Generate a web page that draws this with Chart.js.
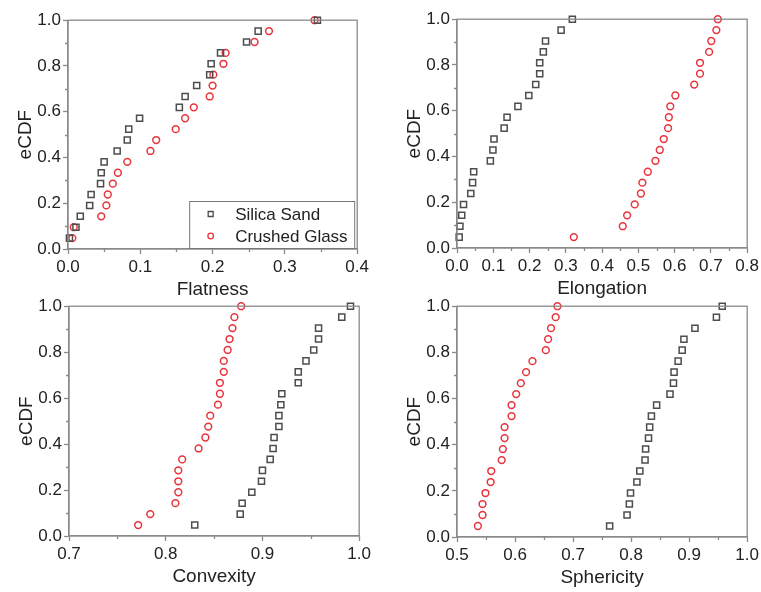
<!DOCTYPE html>
<html>
<head>
<meta charset="utf-8">
<script src="https://cdn.jsdelivr.net/npm/chart.js@4/dist/chart.umd.min.js"></script>
<style>
  html, body { margin: 0; padding: 0; background: #fff; }
  body { width: 761px; height: 592px; position: relative; overflow: hidden; }
  .panel { position: absolute; }
</style>
</head>
<body>
<div class="panel" id="p1"><canvas id="c1"></canvas></div>
<div class="panel" id="p2"><canvas id="c2"></canvas></div>
<div class="panel" id="p3"><canvas id="c3"></canvas></div>
<div class="panel" id="p4"><canvas id="c4"></canvas></div>
<script>
// eCDF levels: k/21 for k = 1..21
const ecdf = [1,2,3,4,5,6,7,8,9,10,11,12,13,14,15,16,17,18,19,20,21].map(k => k / 21);

// Flatness
const flatSand  = [0.002,0.011,0.017,0.030,0.032,0.045,0.046,0.050,0.068,0.082,0.084,0.099,0.154,0.162,0.178,0.196,0.198,0.211,0.247,0.263,0.345];
const flatGlass = [0.006,0.008,0.046,0.053,0.055,0.062,0.069,0.082,0.114,0.122,0.149,0.162,0.174,0.196,0.200,0.201,0.215,0.218,0.258,0.278,0.341];

// Elongation
const elongSand  = [0.006,0.008,0.013,0.018,0.038,0.043,0.046,0.092,0.099,0.102,0.130,0.138,0.168,0.198,0.217,0.228,0.228,0.238,0.244,0.287,0.318];
const elongGlass = [0.322,0.457,0.469,0.490,0.507,0.511,0.526,0.547,0.559,0.570,0.582,0.584,0.588,0.602,0.654,0.670,0.670,0.695,0.701,0.715,0.719];

// Convexity
const convSand  = [0.830,0.877,0.879,0.889,0.899,0.900,0.908,0.911,0.912,0.917,0.917,0.919,0.920,0.937,0.937,0.945,0.953,0.958,0.958,0.982,0.991];
const convGlass = [0.7715,0.784,0.810,0.813,0.813,0.813,0.817,0.834,0.841,0.844,0.846,0.854,0.856,0.856,0.860,0.860,0.864,0.866,0.869,0.871,0.878];

// Sphericity
const sphSand  = [0.763,0.793,0.797,0.799,0.810,0.815,0.824,0.825,0.830,0.832,0.835,0.844,0.867,0.873,0.874,0.881,0.888,0.891,0.910,0.947,0.957];
const sphGlass = [0.536,0.544,0.544,0.549,0.558,0.559,0.577,0.579,0.582,0.582,0.594,0.594,0.602,0.610,0.619,0.630,0.653,0.657,0.662,0.670,0.673];

const seriesNames = ['Silica Sand', 'Crushed Glass'];

const sandColor = '#4d4d4d';
const glassColor = '#e8343c';
const frameColor = '#8a8a8a';
const font = 'Liberation Sans, Arial, sans-serif';

// frame + minor ticks
const framePlugin = {
  id: 'frame',
  afterDraw(chart) {
    const ctx = chart.ctx, a = chart.chartArea;
    ctx.save();
    ctx.strokeStyle = frameColor;
    ctx.lineWidth = 1.3;
    ctx.strokeRect(a.left, a.top, a.right - a.left, a.bottom - a.top);
    // minor ticks
    const xs = chart.scales.x, ys = chart.scales.y;
    const mx = chart.options.plugins.frame.xMinor, my = chart.options.plugins.frame.yMinor;
    ctx.beginPath();
    for (let v = xs.min + mx; v < xs.max; v += 2 * mx) {
      const px = Math.round(xs.getPixelForValue(v)) + 0.5;
      ctx.moveTo(px, a.bottom); ctx.lineTo(px, a.bottom + 3);
    }
    for (let v = ys.min + my; v < ys.max; v += 2 * my) {
      const py = Math.round(ys.getPixelForValue(v)) + 0.5;
      ctx.moveTo(a.left, py); ctx.lineTo(a.left - 3, py);
    }
    ctx.stroke();
    ctx.restore();
  }
};

// legend box inside the plot (bottom right)
const boxLegend = {
  id: 'boxLegend',
  afterDraw(chart) {
    if (!chart.options.plugins.boxLegend.show) return;
    const ctx = chart.ctx, a = chart.chartArea;
    const w = 165, h = 47;
    const x0 = a.right - w - 3, y0 = a.bottom - h - 1;
    ctx.save();
    ctx.strokeStyle = '#777';
    ctx.lineWidth = 1;
    ctx.strokeRect(x0 + 0.5, y0 + 0.5, w, h);
    ctx.font = '17px ' + font;
    ctx.fillStyle = '#222';
    ctx.textBaseline = 'middle';
    chart.data.datasets.forEach((ds, i) => {
      const cy = y0 + 13 + i * 22;
      ctx.lineWidth = 1.3;
      ctx.strokeStyle = ds.borderColor;
      ctx.beginPath();
      if (ds.pointStyle === 'rect') {
        ctx.rect(x0 + 19, cy - 2.5, 5, 5);
      } else {
        ctx.arc(x0 + 21.5, cy, 2.8, 0, Math.PI * 2);
      }
      ctx.stroke();
      ctx.fillText(ds.label, x0 + 46, cy + 1);
    });
    ctx.restore();
  }
};

function makePanel(id, canvasId, box, xMin, xMax, xTitle, sand, glass, showLegend) {
  const yW = 68, xH = 52, padTop = 8, padRight = 14;
  const el = document.getElementById(id);
  el.style.left = (box.left - yW) + 'px';
  el.style.top = (box.top - padTop) + 'px';
  el.style.width = (yW + box.right - box.left + padRight) + 'px';
  el.style.height = (padTop + box.bottom - box.top + xH) + 'px';

  const tickFont = { family: font, size: 17 };
  const titleFont = { family: font, size: 19 };

  return new Chart(document.getElementById(canvasId), {
    type: 'scatter',
    data: {
      datasets: [
        {
          label: seriesNames[0],
          data: sand.map((v, i) => ({ x: v, y: ecdf[i] })),
          pointStyle: 'rect',
          pointRadius: 4.3,
          borderColor: sandColor,
          backgroundColor: 'rgba(0,0,0,0)',
          borderWidth: 1.5
        },
        {
          label: seriesNames[1],
          data: glass.map((v, i) => ({ x: v, y: ecdf[i] })),
          pointStyle: 'circle',
          pointRadius: 3.4,
          borderColor: glassColor,
          backgroundColor: 'rgba(0,0,0,0)',
          borderWidth: 1.5
        }
      ]
    },
    options: {
      responsive: true,
      maintainAspectRatio: false,
      animation: false,
      clip: false,
      layout: { padding: { top: padTop, right: padRight, left: 0, bottom: 0 } },
      plugins: {
        legend: { display: false },
        tooltip: { enabled: false },
        frame: { xMinor: 0.05, yMinor: 0.1 },
        boxLegend: { show: showLegend }
      },
      scales: {
        x: {
          type: 'linear',
          min: xMin,
          max: xMax,
          afterFit(s) { s.height = xH; },
          border: { color: frameColor, width: 1.3 },
          grid: { drawOnChartArea: false, tickLength: 5, tickColor: frameColor, tickWidth: 1.3 },
          ticks: {
            stepSize: 0.1,
            font: tickFont,
            color: '#222',
            padding: 3,
            maxRotation: 0,
            callback: v => v.toFixed(1)
          },
          title: { display: true, text: xTitle, font: titleFont, color: '#222', padding: { top: 0, bottom: 0 } }
        },
        y: {
          type: 'linear',
          min: 0,
          max: 1,
          afterFit(s) { s.width = yW; },
          border: { color: frameColor, width: 1.3 },
          grid: { drawOnChartArea: false, tickLength: 5, tickColor: frameColor, tickWidth: 1.3 },
          ticks: {
            stepSize: 0.2,
            font: tickFont,
            color: '#222',
            padding: 2,
            callback: v => v.toFixed(1)
          },
          title: { display: true, text: 'eCDF', font: titleFont, color: '#222', padding: { top: 14, bottom: 0 } }
        }
      }
    },
    plugins: [framePlugin, boxLegend]
  });
}

makePanel('p1', 'c1', { left: 68, right: 358, top: 16, bottom: 249 }, 0, 0.4, 'Flatness', flatSand, flatGlass, true);
makePanel('p2', 'c2', { left: 457, right: 748, top: 15, bottom: 248 }, 0, 0.8, 'Elongation', elongSand, elongGlass, false);
makePanel('p3', 'c3', { left: 69, right: 360, top: 302, bottom: 536 }, 0.7, 1.0, 'Convexity', convSand, convGlass, false);
makePanel('p4', 'c4', { left: 457, right: 748, top: 302, bottom: 537 }, 0.5, 1.0, 'Sphericity', sphSand, sphGlass, false);
</script>
</body>
</html>
